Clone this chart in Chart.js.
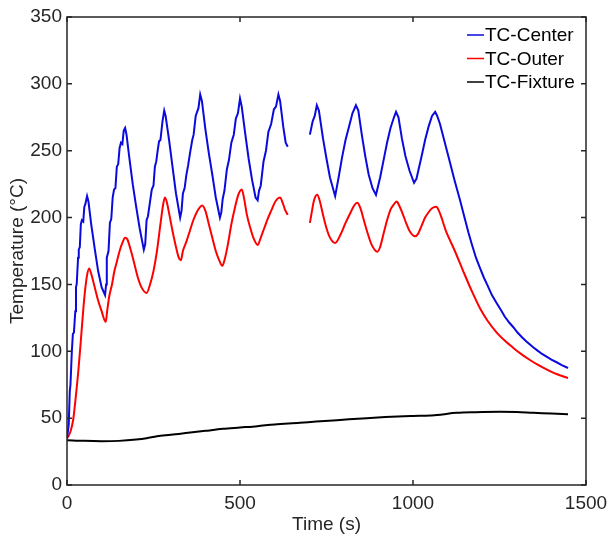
<!DOCTYPE html>
<html>
<head>
<meta charset="utf-8">
<script src="https://cdn.jsdelivr.net/npm/chart.js@4/dist/chart.umd.min.js"></script>
<style>
  html, body { margin: 0; padding: 0; background: #fff; }
  #wrap { width: 607px; height: 537px; }
</style>
</head>
<body>
<div id="wrap"><canvas id="tcChart" width="607" height="537"></canvas></div>
<script>
// series labels
var seriesNames = ["TC-Center", "TC-Outer", "TC-Fixture"];

// TC-Center (time s, temp C) - null marks the logging gap
var centerTime = [0,5,8,10,14,17,20,24,26,28,32,34,37,40,43,47,50,53,58,62,70,80,90,100,110,
  113,115,120,124,128,132,136,140,144,148,152,156,160,164,168,172,180,190,200,210,222,
  226,230,234,240,245,250,254,258,262,266,270,276,281,285,295,305,315,327,
  331,335,340,345,350,356,362,366,372,376,380,385,390,400,410,420,430,442,
  446,450,455,462,468,475,482,488,494,500,505,515,525,535,545,551,
  555,560,568,575,582,590,598,604,611,616,625,632,638,670,
  702,710,716,722,728,740,750,760,775,785,795,805,815,825,835,842,852,862,872,883,893,
  905,915,925,935,945,951,958,968,978,990,1003,1010,1025,1035,1045,1055,1064,1070,
  1078,1090,1105,1120,1136,1150,1160,1170,1182,1194,1205,1215,1228,1242,1255,1265,1278,1290,1302,
  1315,1327,1338,1350,1360,1373,1386,1400,1415,1430,1448];
var centerTemp = [35,45,70,75,100,113,114,130,148,150,170,176,178,195,198,197,208,210,216,212,195,177,160,148,142,
  150,170,175,196,199,215,221,222,238,240,252,256,255,265,267,262,245,225,208,192,176,
  180,198,201,212,221,224,238,242,250,257,258,272,280,276,258,238,218,200,
  205,218,222,232,239,249,258,262,276,279,282,292,287,266,248,232,215,200,
  204,214,220,236,243,256,262,274,278,289,283,263,244,228,215,213,
  220,224,242,250,264,270,281,283,292,287,268,256,253,null,
  262,272,276,284,280,259,244,230,216,230,245,258,268,278,284,280,262,246,232,222,217,
  230,243,256,267,275,279,275,259,246,235,226,229,246,258,268,276,279,276,
  270,258,243,228,213,199,189,180,170,162,155,149.5,142,136,130.5,126,121.5,118,114,
  110.5,107.5,105,102.5,100.5,98,96,93.8,91.8,89.7,87.5];

// TC-Outer
var outerTime = [0,5,10,18,25,33,40,47,52,58,64,70,80,90,100,112,116,122,130,137,144,152,160,168,174,
  185,195,205,215,230,240,250,260,270,278,283,288,296,305,315,323,329,335,345,355,365,375,385,391,
  400,410,420,430,440,449,455,465,475,485,495,505,512,520,530,540,551,560,570,580,590,600,608,616,
  622,630,638,670,
  702,708,714,723,730,740,750,760,775,790,805,820,830,839,848,858,868,880,897,905,915,925,935,945,953,
  960,970,980,990,1006,1015,1025,1035,1045,1055,1067,1075,1085,1095,1107,1121,1145,1170,1194,1215,
  1242,1265,1290,1315,1338,1360,1386,1415,1448];
var outerTemp = [35,37,40,49,65,86,108,131,145,157,162,158,148,138,130,122,130,141,150,160,167,175,181,185,184,
  175,165,155,148,143.6,150,160,175,195,210,215,212,202,190,178,170,168,175,182,190,198,204,208,209,
  205,195,185,175,168,164,168,180,195,207,217,221,214,202,192,184,179.5,185,192,199,205,211,214,215,
  212,206,202,null,
  196,205,213,217,213,202,192,185,181,187,196,204,209,211,207,198,189,180,174.5,178,188,198,206,210,212,
  209,203,196,190,186,188,194,200,204,207,208,205,198,190,183,175,160,145,132,123,
  114,108,102.5,97.5,93.5,90,86.5,83,80];

// TC-Fixture
var fixtureTime = [0,50,100,150,200,230,260,300,350,400,450,500,550,600,673,720,780,866,920,1000,
  1050,1080,1100,1126,1180,1251,1300,1348,1400,1448];
var fixtureTemp = [33.5,33,32.8,33,34,35,36.5,37.5,39,40.5,42,43,44,45.3,46.5,47.5,48.5,50,50.8,51.6,
  52,52.5,53.3,54,54.5,54.8,54.6,54,53.5,52.9];

// axis ticks
var xTicks = [0, 500, 1000, 1500];
var yTicks = [0, 50, 100, 150, 200, 250, 300, 350];

var lineColors = ["#0a0ade", "#ff0000", "#000000"];
var axisColor = "#262626";
var fontFam = "'Liberation Sans', Arial, Helvetica, sans-serif";

function toPoints(ts, vs) {
  var pts = [];
  for (var i = 0; i < ts.length; i++) pts.push({x: ts[i], y: vs[i]});
  return pts;
}

// box frame, inward ticks and a MATLAB-like legend
var framePlugin = {
  id: "frame",
  afterDraw: function(chart) {
    var ctx = chart.ctx, a = chart.chartArea;
    var xs = chart.scales.x, ys = chart.scales.y;
    var tl = 5;
    ctx.save();
    ctx.strokeStyle = axisColor;
    ctx.lineWidth = 1.5;
    ctx.strokeRect(a.left, a.top, a.right - a.left, a.bottom - a.top);
    ctx.beginPath();
    xTicks.forEach(function(v) {
      var px = xs.getPixelForValue(v);
      ctx.moveTo(px, a.bottom); ctx.lineTo(px, a.bottom - tl);
      ctx.moveTo(px, a.top); ctx.lineTo(px, a.top + tl);
    });
    yTicks.forEach(function(v) {
      var py = ys.getPixelForValue(v);
      ctx.moveTo(a.left, py); ctx.lineTo(a.left + tl, py);
      ctx.moveTo(a.right, py); ctx.lineTo(a.right - tl, py);
    });
    ctx.stroke();

    // legend (no box)
    ctx.font = "19px " + fontFam;
    ctx.textBaseline = "middle";
    ctx.textAlign = "left";
    chart.data.datasets.forEach(function(ds, i) {
      var y = a.top + 18 + i * 23.5;
      ctx.strokeStyle = ds.borderColor;
      ctx.lineWidth = 1.5;
      ctx.beginPath();
      ctx.moveTo(a.right - 119, y); ctx.lineTo(a.right - 102, y);
      ctx.stroke();
      ctx.fillStyle = "#000";
      ctx.fillText(ds.label, a.right - 101, y + 1);
    });
    ctx.restore();
  }
};

var ctx = document.getElementById("tcChart").getContext("2d");
var tcChart = new Chart(ctx, {
  type: "line",
  data: {
    datasets: [
      { label: seriesNames[0], data: toPoints(centerTime, centerTemp), borderColor: lineColors[0], tension: 0 },
      { label: seriesNames[1], data: toPoints(outerTime, outerTemp), borderColor: lineColors[1],
        cubicInterpolationMode: "monotone" },
      { label: seriesNames[2], data: toPoints(fixtureTime, fixtureTemp), borderColor: lineColors[2],
        cubicInterpolationMode: "monotone" }
    ]
  },
  options: {
    responsive: false,
    animation: false,
    devicePixelRatio: 1,
    spanGaps: false,
    layout: { padding: { top: 17, right: 21, left: 0, bottom: 0 } },
    elements: {
      point: { radius: 0 },
      line: { borderWidth: 2, fill: false }
    },
    plugins: { legend: { display: false }, tooltip: { enabled: false } },
    scales: {
      x: {
        type: "linear",
        min: 0, max: 1500,
        afterBuildTicks: function(s) { s.ticks = xTicks.map(function(v) { return {value: v}; }); },
        afterFit: function(s) { s.height = 52; s.paddingLeft = 0; s.paddingRight = 0; },
        grid: { display: false, drawTicks: false },
        border: { display: false },
        ticks: { color: axisColor, padding: 7, maxRotation: 0, font: { family: fontFam, size: 19 },
                 callback: function(v) { return String(v); } },
        title: { display: true, text: "Time (s)", color: axisColor, padding: { top: 0, bottom: 1 },
                 font: { family: fontFam, size: 19 } }
      },
      y: {
        min: 0, max: 350,
        afterBuildTicks: function(s) { s.ticks = yTicks.map(function(v) { return {value: v}; }); },
        afterFit: function(s) { s.width = 67; },
        grid: { display: false, drawTicks: false },
        border: { display: false },
        ticks: { color: axisColor, padding: 5, font: { family: fontFam, size: 19 },
                 callback: function(v) { return String(v); } },
        title: { display: true, text: "Temperature (°C)", color: axisColor, padding: { top: 6, bottom: 0 },
                 font: { family: fontFam, size: 19 } }
      }
    }
  },
  plugins: [framePlugin]
});
</script>
</body>
</html>
